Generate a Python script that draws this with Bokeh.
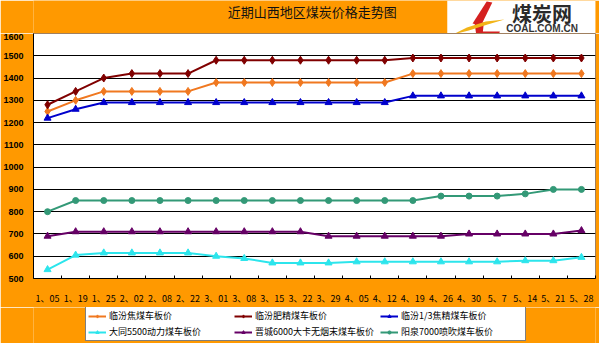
from bokeh.plotting import figure
from bokeh.layouts import column
from bokeh.models import Range1d, FixedTicker, Legend, LegendItem
from bokeh.core.properties import value
from bokeh.embed import file_html
from bokeh.resources import INLINE

# ---------------- data ----------------
dates = ["1、05", "1、19", "1、25", "2、02", "2、08", "2、22", "3、01", "3、08",
         "3、15", "3、22", "3、29", "4、05", "4、12", "4、19", "4、26", "4、30",
         "5、7", "5、14", "5、21", "5、28"]

linfen_coke = [1250, 1300, 1340, 1340, 1340, 1340, 1380, 1380, 1380, 1380,
               1380, 1380, 1380, 1420, 1420, 1420, 1420, 1420, 1420, 1420]
linfen_fat = [1280, 1340, 1400, 1420, 1420, 1420, 1480, 1480, 1480, 1480,
              1480, 1480, 1480, 1490, 1490, 1490, 1490, 1490, 1490, 1490]
linfen_13 = [1220, 1260, 1290, 1290, 1290, 1290, 1290, 1290, 1290, 1290,
             1290, 1290, 1290, 1320, 1320, 1320, 1320, 1320, 1320, 1320]
datong_5500 = [540, 605, 615, 615, 615, 615, 600, 590, 570, 570,
               570, 575, 575, 575, 575, 575, 575, 580, 580, 595]
jincheng_6000 = [690, 710, 710, 710, 710, 710, 710, 710, 710, 710,
                 690, 690, 690, 690, 690, 700, 700, 700, 700, 715]
yangquan_7000 = [800, 850, 850, 850, 850, 850, 850, 850, 850, 850,
                 850, 850, 850, 850, 870, 870, 870, 880, 900, 900]

series_names = ["临汾焦煤车板价", "临汾肥精煤车板价", "临汾1/3焦精煤车板价",
                "大同5500动力煤车板价", "晋城6000大卡无烟末煤车板价", "阳泉7000喷吹煤车板价"]
y_ticks = [500, 600, 700, 800, 900, 1000, 1100, 1200, 1300, 1400, 1500, 1600]
title_text = "近期山西地区煤炭价格走势图"
logo_cn = "煤炭网"
logo_en = "COAL.COM.CN"

# ---------------- styling ----------------
W = 599
TOP_H, CHART_H, LEG_H = 33, 274, 36
CJK = "Noto Sans CJK SC"
ORANGE_BG = "#FF9900"
colors = ["#F07820", "#800000", "#0000CC", "#2CE5EC", "#660066", "#339977"]
markers = ["diamond", "diamond", "triangle", "triangle", "triangle", "circle"]
msizes = [8, 8, 7, 7, 7, 6]
NAN = float("nan")


def bare(fig):
    fig.border_fill_color = ORANGE_BG
    fig.background_fill_color = ORANGE_BG
    fig.outline_line_color = None
    fig.min_border_left = 0
    fig.min_border_right = 0
    fig.min_border_top = 0
    fig.min_border_bottom = 0
    return fig


# ---------------- top bar: title + logo ----------------
top = bare(figure(width=W, height=TOP_H, output_backend="svg", toolbar_location=None,
                  x_range=Range1d(0, W), y_range=Range1d(TOP_H, 0),
                  x_axis_type=None, y_axis_type=None))
top.text(x=[297], y=[11], text=[title_text], text_align="center",
         text_baseline="middle", text_font=value(CJK), text_font_size="13px",
         text_color="#111111")
top.quad(left=[441], right=[W], top=[0], bottom=[TOP_H], fill_color="white",
         line_color=None)
top.patch([483, 489, 477, 468], [1, 2, 25, 23], fill_color="#D42020", line_color=None)
top.patch([470, 480, 479, 497, 496, 472], [22, 22, 31, 31, 35, 35],
          fill_color="#D42020", line_color=None)
top.patch([447, 462, 482, 502, 484, 464], [34, 27, 21, 19, 24, 30],
          fill_color="#F2B418", line_color=None)
top.text(x=[542], y=[13], text=[logo_cn], text_align="center",
         text_baseline="middle", text_font=value(CJK), text_font_size="20px",
         text_font_style="bold", text_color="#2A2A2A")
top.text(x=[542], y=[28], text=[logo_en], text_align="center",
         text_baseline="middle", text_font=value("Liberation Sans"),
         text_font_size="10px", text_font_style="bold", text_color="#333333")

# ---------------- chart ----------------
x_idx = list(range(len(dates)))
p = figure(width=W, height=CHART_H, output_backend="svg", toolbar_location=None,
           x_range=Range1d(-0.5, len(dates) - 0.5), y_range=Range1d(500, 1600),
           min_border_left=25, min_border_right=4, min_border_top=0,
           min_border_bottom=22)
p.border_fill_color = ORANGE_BG
p.background_fill_color = "white"
p.outline_line_color = "#A08060"

p.xaxis.ticker = FixedTicker(ticks=x_idx, minor_ticks=[i - 0.5 for i in range(len(dates) + 1)])
p.xaxis.major_label_overrides = {i: d for i, d in enumerate(dates)}
p.xaxis.major_tick_line_color = None
p.xaxis.minor_tick_in = 3
p.xaxis.minor_tick_out = 0
p.xaxis.minor_tick_line_color = "black"
p.xaxis.axis_line_color = "black"
p.xaxis.major_label_text_font = CJK
p.xaxis.major_label_text_font_size = "9px"
p.xaxis.major_label_text_color = "black"
p.xaxis.major_label_standoff = 7

p.yaxis.ticker = FixedTicker(ticks=y_ticks)
p.yaxis.major_tick_line_color = None
p.yaxis.minor_tick_line_color = None
p.yaxis.axis_line_color = "black"
p.yaxis.major_label_text_font = "Liberation Sans"
p.yaxis.major_label_text_font_size = "9px"
p.yaxis.major_label_text_font_style = "bold"
p.yaxis.major_label_text_color = "black"
p.yaxis.major_label_standoff = 4

p.xgrid.grid_line_color = None
p.ygrid.grid_line_color = "black"
p.ygrid.grid_line_width = 1

all_series = [linfen_coke, linfen_fat, linfen_13, datong_5500, jincheng_6000, yangquan_7000]
for ys, c, m, s in zip(all_series, colors, markers, msizes):
    p.line(x_idx, ys, line_color=c, line_width=2)
    p.scatter(x_idx, ys, marker=m, size=s, fill_color=c, line_color=c)

# ---------------- legend strip ----------------
leg = bare(figure(width=W, height=LEG_H, output_backend="svg", toolbar_location=None,
                  x_range=Range1d(0, 1), y_range=Range1d(0, 1),
                  x_axis_type=None, y_axis_type=None))
items = []
for name, c, m, s in zip(series_names, colors, markers, msizes):
    r1 = leg.line([NAN], [NAN], line_color=c, line_width=2)
    r2 = leg.scatter([NAN], [NAN], marker=m, size=s, fill_color=c, line_color=c)
    items.append(LegendItem(label=name, renderers=[r1, r2]))

legend = Legend(items=items, orientation="horizontal", ncols=3,
                location=(52, 2),
                background_fill_color="white", background_fill_alpha=1.0,
                border_line_color="black", border_line_width=1,
                label_text_font=CJK, label_text_font_size="9px",
                label_text_color="black", glyph_width=18, glyph_height=8,
                label_standoff=3, label_width=122, label_height=13,
                spacing=3, padding=2, margin=0)
leg.add_layout(legend, "center")

layout = column(top, p, leg, spacing=0)
open("out.html", "w").write(file_html(layout, INLINE))
